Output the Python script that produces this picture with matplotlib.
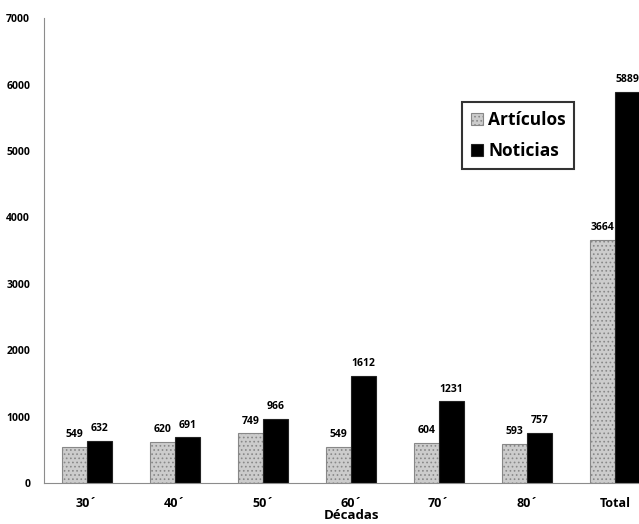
import matplotlib
matplotlib.use('Agg')
import matplotlib.pyplot as plt
import numpy as np

decadas = ['30\u00b4', '40\u00b4', '50\u00b4', '60\u00b4', '70\u00b4', '80\u00b4', 'Total']
articulos = [549, 620, 749, 549, 604, 593, 3664]
noticias = [632, 691, 966, 1612, 1231, 757, 5889]
yticks = [0, 1000, 2000, 3000, 4000, 5000, 6000, 7000]

FONT = 'Open Sans'
plt.rcParams['hatch.linewidth'] = 0.7

fig = plt.figure(figsize=(6.39, 5.24), dpi=100)
ax = fig.add_axes([0.0689, 0.0782, 0.961, 0.887])

x = np.arange(len(decadas))
w = 0.285

b1 = ax.bar(x - w / 2, articulos, w, facecolor='#cccccc', edgecolor='#888888',
            hatch='....', linewidth=0.8, label='Art\u00edculos')
b2 = ax.bar(x + w / 2, noticias, w, facecolor='black', edgecolor='#222222',
            linewidth=0.8, label='Noticias')

for xi, v in zip(x - w / 2, articulos):
    ax.text(xi, v + 100, str(v), ha='center', va='bottom', fontsize=7.5,
            fontweight='bold', family=FONT)
for xi, v in zip(x + w / 2, noticias):
    ax.text(xi, v + 100, str(v), ha='center', va='bottom', fontsize=7.5,
            fontweight='bold', family=FONT)

ax.set_xlim(-0.489, 6.489)
ax.set_ylim(0, 7000)
ax.set_yticks(yticks)
ax.set_yticklabels([str(t) for t in yticks], fontsize=7.5, fontweight='bold',
                   family=FONT)
ax.set_xticks(x)
ax.set_xticklabels(decadas, fontsize=9, fontweight='bold', family=FONT)
ax.tick_params(axis='both', length=0)
ax.tick_params(axis='y', pad=10)
ax.tick_params(axis='x', pad=10)
ax.set_xlabel('D\u00e9cadas', fontsize=9.5, fontweight='bold', family=FONT,
              labelpad=-1)

for s in ['top', 'right']:
    ax.spines[s].set_visible(False)
ax.spines['left'].set_color('#8c8c8c')
ax.spines['bottom'].set_color('#8c8c8c')

leg = fig.legend(handles=[b1, b2], loc='upper left',
                 bbox_to_anchor=(0.723, 0.805), frameon=True, fancybox=False,
                 prop={'family': FONT, 'weight': 'bold', 'size': 12.5},
                 handlelength=0.7, handleheight=0.7, handletextpad=0.3,
                 labelspacing=0.75, borderpad=0.5, borderaxespad=0)
leg.get_frame().set_edgecolor('black')
leg.get_frame().set_linewidth(1.5)

fig.savefig('out.png', dpi=100)
